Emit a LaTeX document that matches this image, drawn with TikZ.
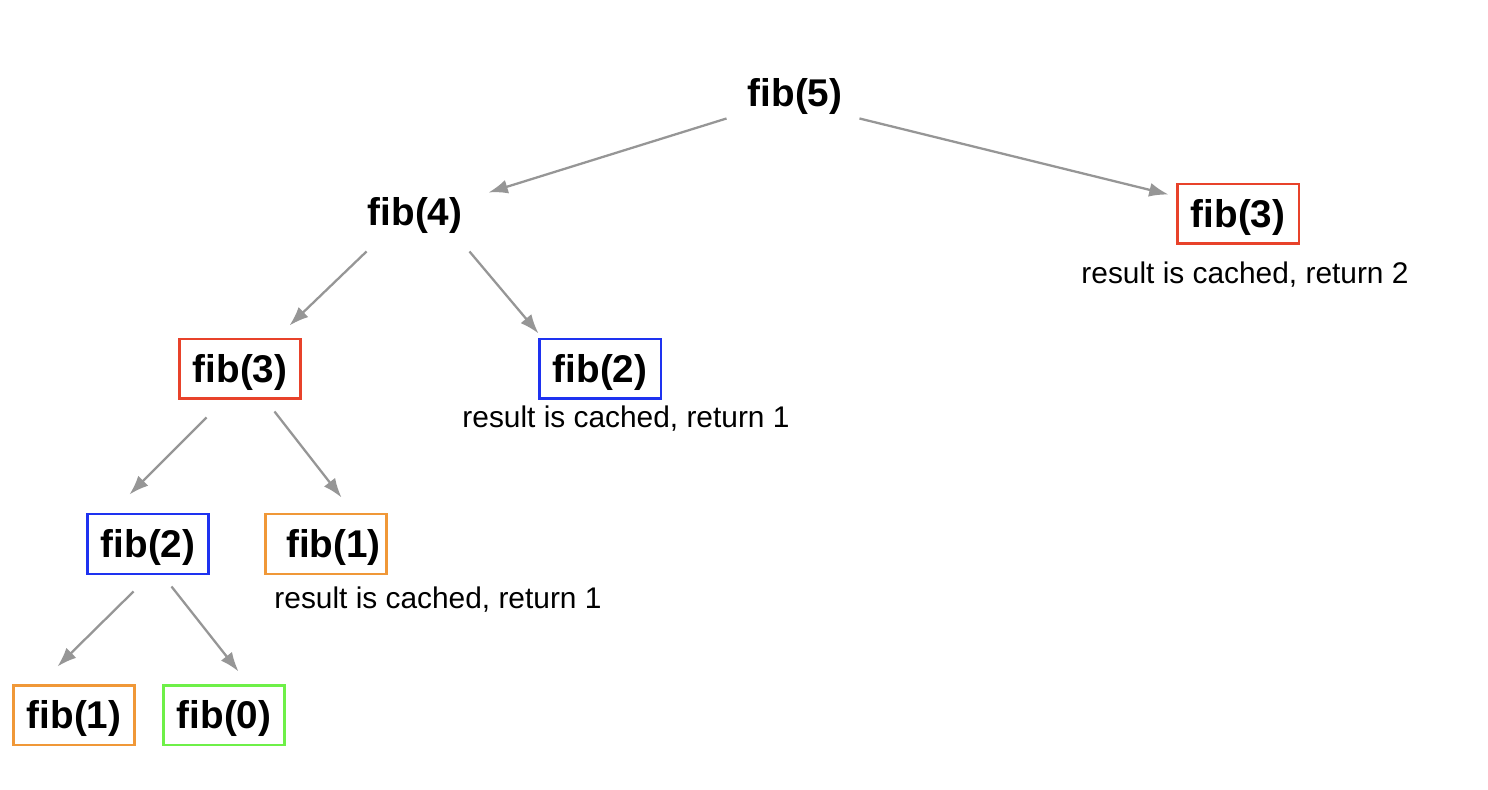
\documentclass[tikz,border=0pt]{standalone}
\usepackage{fontspec}
\setmainfont{Liberation Sans}
\usetikzlibrary{arrows.meta}
\definecolor{fibred}{RGB}{232,66,42}
\definecolor{fibblue}{RGB}{30,50,240}
\definecolor{fiborange}{RGB}{240,152,56}
\definecolor{fibgreen}{RGB}{110,240,72}
\definecolor{arrgray}{RGB}{150,150,150}
\begin{document}
\begin{tikzpicture}[x=0.02cm, y=-0.02cm,
  call/.style={draw=#1, line width=1.7pt, minimum width=2.44cm,
               minimum height=1.2cm, inner sep=0pt,
               text height=20pt, text depth=4.6pt,
               font=\fontsize{22}{26}\selectfont\bfseries},
  call/.default=none,
  note/.style={font=\fontsize{17}{20}\selectfont},
  arr/.style={-{Latex[length=11pt, width=8pt]}, line width=1.3pt, arrgray}
]
  \useasboundingbox (0,0) rectangle (1488,790);
  % call tree
  \node[call] (f5) at (795, 93) {fib(5)};
  \node[call] (f4) at (415, 212) {fib(4)};
  \node[call=fibred] (f3r) at (1238, 214) {fib(3)};
  \node[call=fibred] (f3) at (240, 369) {fib(3)};
  \node[call=fibblue] (f2r) at (600, 369) {fib(2)};
  \node[call=fibblue] (f2) at (148, 544) {fib(2)};
  \node[call=fiborange] (f1r) at (326, 544) {\hspace{0.3cm}fib(1)};
  \node[call=fiborange] (f1) at (74, 715) {fib(1)};
  \node[call=fibgreen] (f0) at (224, 715) {fib(0)};
  % cache notes
  \node[note] (n3) at (1245, 275) {result is cached, return 2};
  \node[note] (n2) at (626, 419) {result is cached, return 1};
  \node[note] (n1) at (438, 600) {result is cached, return 1};
  % edges
  \draw[arr] ([shift={(-6,-6)}]f5.south west) -- ([shift={(11,12)}]f4.north east);
  \draw[arr] ([shift={(2,-6)}]f5.south east) -- ([shift={(-7,12)}]f3r.north west);
  \draw[arr] ([shift={(14,8)}]f4.south west) -- ([shift={(-13,-12)}]f3.north east);
  \draw[arr] ([shift={(-8,8)}]f4.south east) -- ([shift={(1,-4)}]f2r.north west);
  \draw[arr] ([shift={(29,17)}]f3.south west) -- ([shift={(-81,-18)}]f2.north east);
  \draw[arr] ([shift={(-28,11)}]f3.south east) -- ([shift={(78,-15)}]f1r.north west);
  \draw[arr] ([shift={(48,16)}]f2.south west) -- ([shift={(-79,-17)}]f1.north east);
  \draw[arr] ([shift={(-39,11)}]f2.south east) -- ([shift={(77,-12)}]f0.north west);
\end{tikzpicture}
\end{document}
